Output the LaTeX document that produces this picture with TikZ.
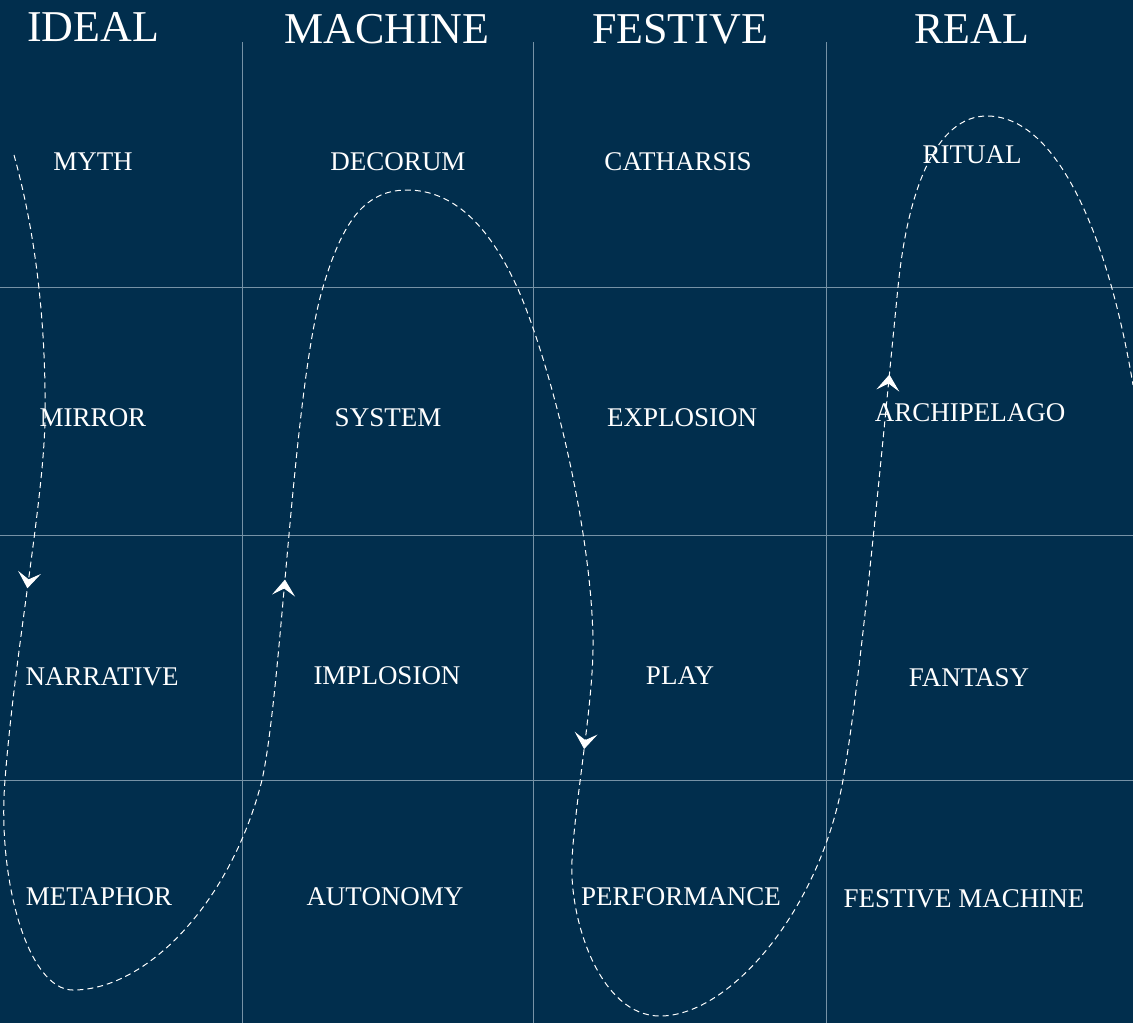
\documentclass[tikz,border=0pt]{standalone}
\usepackage{fontspec}
\setmainfont{Liberation Serif}
\usetikzlibrary{arrows.meta,decorations.markings}
\definecolor{navy}{RGB}{1,46,77}
\definecolor{rule}{RGB}{118,146,166}
\def\tip{Stealth[length=8pt, width=11.5pt, inset=3.5pt]}

\begin{document}
\begin{tikzpicture}[x=0.5pt, y=-0.5pt, text=white]
    \tikzstyle{heading}=[font=\fontsize{22}{24}\selectfont, inner sep=0pt]
    \tikzstyle{cell}=[font=\fontsize{13.5}{15}\selectfont, inner sep=0pt]
    \tikzstyle{grid}=[draw=rule, line width=0.5pt]
    \tikzstyle{route}=[draw=white, line width=0.5pt, dash pattern=on 3pt off 2pt,
        postaction={decorate}, decoration={markings,
            mark=at position 0.107 with {\arrow[white, solid]{\tip}},
            mark=at position 0.335 with {\arrow[white, solid]{\tip}},
            mark=at position 0.595 with {\arrow[white, solid]{\tip}},
            mark=at position 0.848 with {\arrow[white, solid]{\tip}}}]

    % Background
    \useasboundingbox (0,0) rectangle (1133,1023);
    \fill[navy] (0,0) rectangle (1133,1023);

    % Grid lines
    \foreach \x in {242,533,826}
        \draw[grid] (\x,42) -- (\x,1023);
    \foreach \y in {287,535,780}
        \draw[grid] (0,\y) -- (1133,\y);

    % Column headings
    \foreach \name/\x/\y in {IDEAL/93/27,MACHINE/387/29,FESTIVE/680/29,REAL/972/29}
        \node[heading] (H-\name) at (\x,\y) {\name};

    % Cells, row by row
    \foreach \name/\x/\y/\id in {MYTH/93/162/1-1, DECORUM/398/162/1-2, CATHARSIS/678/162/1-3, RITUAL/972/155/1-4,
        MIRROR/93/418/2-1, SYSTEM/388/418/2-2, EXPLOSION/682/418/2-3, ARCHIPELAGO/970/413/2-4,
        NARRATIVE/102/677/3-1, IMPLOSION/387/676/3-2, PLAY/680/676/3-3, FANTASY/969/678/3-4,
        METAPHOR/99/897/4-1, AUTONOMY/385/897/4-2, PERFORMANCE/681/897/4-3, FESTIVE MACHINE/964/899/4-4}
        \node[cell] (C-\id) at (\x,\y) {\name};

    % The dashed route through the table
    \draw[route] (14,155) .. controls (39,245) and (46,340) .. (45,418)
        .. controls (44,500) and (15,650) .. (5,780)
        .. controls (-3,880) and (28,990) .. (73,990)
        .. controls (148,990) and (232,900) .. (262,780)
        .. controls (282,690) and (293,387) .. (323,287)
        .. controls (341,227) and (362,190) .. (407,190)
        .. controls (457,190) and (492,232) .. (517,287)
        .. controls (547,353) and (591,520) .. (593,640)
        .. controls (594,700) and (575,800) .. (572,860)
        .. controls (569,920) and (600,1016) .. (660,1016)
        .. controls (730,1016) and (820,910) .. (843,780)
        .. controls (861,680) and (883,437) .. (898,287)
        .. controls (908,187) and (937,116) .. (987,116)
        .. controls (1057,116) and (1108,235) .. (1133,385);

\end{tikzpicture}
\end{document}
